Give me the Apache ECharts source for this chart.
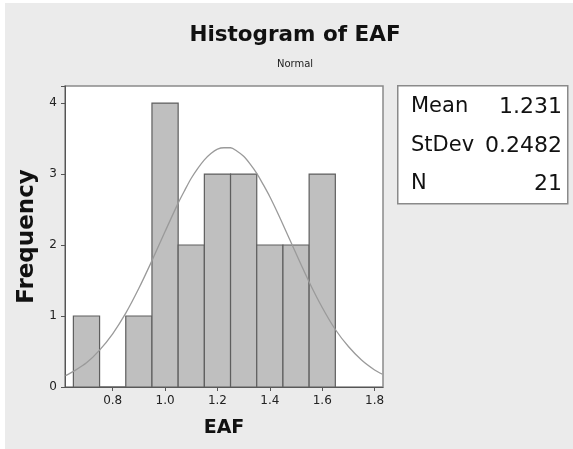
<!DOCTYPE html>
<html>
<head>
<meta charset="utf-8">
<script src="https://cdn.jsdelivr.net/npm/echarts@6.0.0/dist/echarts.min.js"></script>
<style>
html,body{margin:0;padding:0;background:#fff;}
#chart{width:573px;height:449px;background:#ebebeb;box-shadow:inset 5px 3px 0 #fff;}
</style>
</head>
<body>
<div id="chart"></div>
<script>
// Histogram bins (lower / upper edges) and counts
var binLow  = [0.65, 0.75, 0.85, 0.95, 1.05, 1.15, 1.25, 1.35, 1.45, 1.55];
var binHigh = [0.75, 0.85, 0.95, 1.05, 1.15, 1.25, 1.35, 1.45, 1.55, 1.65];
var counts  = [1, 0, 1, 4, 2, 3, 3, 2, 2, 3];

// Fitted normal curve
var curveX = [0.62, 0.65, 0.70, 0.75, 0.80, 0.85, 0.90, 0.95, 1.00, 1.05, 1.075, 1.10, 1.125, 1.15,
              1.175, 1.20, 1.225, 1.25, 1.275, 1.30, 1.325, 1.35, 1.375, 1.40, 1.425, 1.45,
              1.50, 1.55, 1.60, 1.65, 1.70, 1.75, 1.80, 1.83];
var curveY = [0.16, 0.22, 0.34, 0.52, 0.75, 1.04, 1.39, 1.78, 2.19, 2.59, 2.77, 2.94, 3.08, 3.20,
              3.29, 3.35, 3.37, 3.37, 3.32, 3.25, 3.14, 3.01, 2.85, 2.68, 2.49, 2.29,
              1.88, 1.48, 1.12, 0.81, 0.57, 0.38, 0.24, 0.18];

var xTicks = [0.8, 1.0, 1.2, 1.4, 1.6, 1.8];
var statLabels = ['Mean', 'StDev', 'N'];
var statValues = ['1.231', '0.2482', '21'];

var chart = echarts.init(document.getElementById('chart'), null, {renderer: 'canvas'});

var barData = binLow.map(function (lo, i) { return [lo, binHigh[i], counts[i]]; });
var lineData = curveX.map(function (x, i) { return [x, curveY[i]]; });

var statsGraphics = [{
  type: 'rect', left: 397, top: 85, z: 10,
  shape: {width: 170, height: 118},
  style: {fill: '#fff', stroke: '#8a8a8a', lineWidth: 1.5}
}];
var rowY = [107, 146, 184];
statLabels.forEach(function (lab, i) {
  statsGraphics.push({
    type: 'text', x: 411, y: rowY[i], z: 11,
    style: {text: lab, fill: '#111', font: '21px "DejaVu Sans"', textAlign: 'left', textVerticalAlign: 'middle'}
  });
  statsGraphics.push({
    type: 'text', x: 562, y: rowY[i], z: 11,
    style: {text: statValues[i], fill: '#111', font: '22px "DejaVu Sans"', textAlign: 'right', textVerticalAlign: 'middle'}
  });
});

var option = {
  backgroundColor: 'transparent',
  animation: false,
  title: {
    text: 'Histogram of EAF',
    subtext: 'Normal',
    left: 290,
    textAlign: 'center',
    top: 19,
    itemGap: 13,
    textStyle: {fontFamily: 'DejaVu Sans', fontWeight: 'bold', fontSize: 21.5, color: '#111'},
    subtextStyle: {fontFamily: 'DejaVu Sans', fontSize: 10, color: '#222'}
  },
  grid: {
    left: 65, right: 190, top: 86, bottom: 62,
    show: true, backgroundColor: '#fff', borderColor: '#8a8a8a', borderWidth: 1.5
  },
  xAxis: {
    type: 'value',
    min: 0.618, max: 1.832,
    name: 'EAF',
    nameLocation: 'middle',
    nameGap: 32,
    nameTextStyle: {fontFamily: 'DejaVu Sans', fontWeight: 'bold', fontSize: 19, color: '#111'},
    axisLine: {show: true, onZero: false, lineStyle: {color: '#555', width: 1}},
    axisTick: {show: true, length: 4, customValues: xTicks, lineStyle: {color: '#555'}},
    axisLabel: {
      customValues: xTicks, margin: 8, fontFamily: 'DejaVu Sans', fontSize: 12, color: '#222',
      formatter: function (v) { return v.toFixed(1); }
    },
    splitLine: {show: false}
  },
  yAxis: {
    type: 'value',
    min: 0, max: 4.24, interval: 1,
    name: 'Frequency',
    nameLocation: 'middle',
    nameRotate: 90,
    nameGap: 25,
    nameTextStyle: {fontFamily: 'DejaVu Sans', fontWeight: 'bold', fontSize: 23, color: '#111'},
    axisLine: {show: true, lineStyle: {color: '#555', width: 1}},
    axisTick: {show: true, length: 4, lineStyle: {color: '#555'}},
    axisLabel: {
      margin: 8, fontFamily: 'DejaVu Sans', fontSize: 12, color: '#222',
      formatter: function (v) { return Math.abs(v - Math.round(v)) < 1e-6 ? String(Math.round(v)) : ''; }
    },
    splitLine: {show: false}
  },
  series: [{
    type: 'custom',
    data: barData,
    encode: {x: [0, 1], y: 2},
    renderItem: function (params, api) {
      var p0 = api.coord([api.value(0), api.value(2)]);
      var p1 = api.coord([api.value(1), 0]);
      return {
        type: 'rect',
        shape: {x: p0[0], y: p0[1], width: p1[0] - p0[0], height: p1[1] - p0[1]},
        style: {fill: '#bfbfbf', stroke: '#5e5e5e', lineWidth: 1.2}
      };
    },
    z: 2
  }, {
    type: 'line',
    data: lineData,
    smooth: 0.3,
    showSymbol: false,
    symbol: 'none',
    lineStyle: {color: '#9a9a9a', width: 1.3},
    z: 3
  }],
  graphic: statsGraphics
};
chart.setOption(option);
</script>
</body>
</html>
